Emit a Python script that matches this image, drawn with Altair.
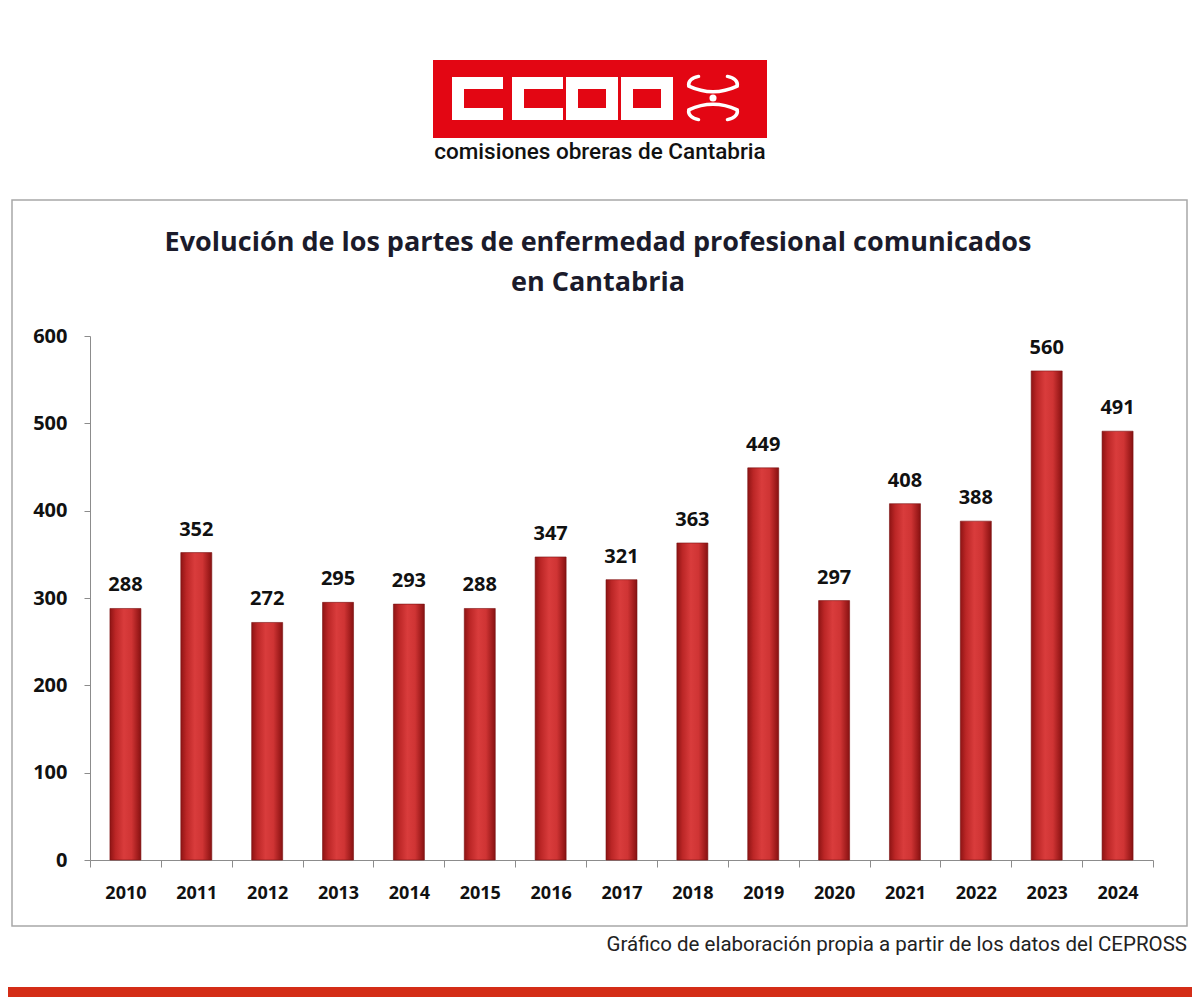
import altair as alt
import pandas as pd

# ---------------- data ----------------
years = ["2010", "2011", "2012", "2013", "2014", "2015", "2016", "2017",
         "2018", "2019", "2020", "2021", "2022", "2023", "2024"]
values = [288, 352, 272, 295, 293, 288, 347, 321, 363, 449, 297, 408, 388, 560, 491]
y_ticks = [0, 100, 200, 300, 400, 500, 600]
title_lines = ["Evolución de los partes de enfermedad profesional comunicados",
               "en Cantabria"]
logo_caption = "comisiones obreras de Cantabria"
footer_text = "Gráfico de elaboración propia a partir de los datos del CEPROSS"

df = pd.DataFrame({"year": years, "value": values})
one = pd.DataFrame({"k": [0]})

# ---------------- layout ----------------
W, H = 1063, 524          # plot area
OX, OY = 90, 336          # page position of plot origin
PAD = {"left": OX - 8, "top": OY - 8, "right": 1184 - (OX - 8) - W,
       "bottom": 989 - (OY - 8) - H}


def px(x):
    return x - OX


def py(y):
    return y - OY


RED = "#e30613"
NUM_FONT = "Open Sans"

# ---------------- decorations ----------------
box = alt.Chart(one).mark_rect(fill="white", fillOpacity=0, stroke="#a8a8a8",
                               strokeWidth=1.5).encode(
    x=alt.value(px(12)), x2=alt.value(px(1187)),
    y=alt.value(py(200)), y2=alt.value(py(926)))

logo_bg = alt.Chart(one).mark_rect(color=RED).encode(
    x=alt.value(px(433)), x2=alt.value(px(767)),
    y=alt.value(py(60)), y2=alt.value(py(138)))


def rect(x1, x2, y1, y2, color):
    return alt.Chart(one).mark_rect(color=color).encode(
        x=alt.value(px(x1)), x2=alt.value(px(x2)),
        y=alt.value(py(y1)), y2=alt.value(py(y2)))


letters = [
    # C
    rect(452, 503, 77, 120, "white"), rect(464, 504, 89, 108, RED),
    # C
    rect(512, 563, 77, 120, "white"), rect(524, 564, 89, 108, RED),
    # O
    rect(566, 618, 77, 120, "white"), rect(578, 606, 89, 108, RED),
    # O
    rect(621, 673, 77, 120, "white"), rect(633, 661, 89, 108, RED),
]

sym_path = ("M -0.55 -0.82 Q -0.97 -0.72 -0.92 -0.45 Q 0 -0.02 0.92 -0.45 "
            "Q 0.97 -0.72 0.55 -0.82 "
            "M -0.55 0.82 Q -0.97 0.72 -0.92 0.45 Q 0 0.02 0.92 0.45 "
            "Q 0.97 0.72 0.55 0.82")
symbol = alt.Chart(one).mark_point(shape=sym_path, size=2770, filled=False,
                                   stroke="white", strokeWidth=3.5,
                                   strokeCap="round", opacity=1).encode(
    x=alt.value(px(713)), y=alt.value(py(98)))
sym_dot = alt.Chart(one).mark_point(shape="circle", size=50, filled=True,
                                    color="white", opacity=1).encode(
    x=alt.value(px(713)), y=alt.value(py(98)))

caption = alt.Chart(one).mark_text(text=logo_caption, font="Roboto",
                                   fontSize=22.5, fontWeight=500,
                                   color="#111111",
                                   align="center", baseline="middle").encode(
    x=alt.value(px(600)), y=alt.value(py(152)))

title1 = alt.Chart(one).mark_text(text=title_lines[0], font=NUM_FONT,
                                  fontSize=27, fontWeight="bold",
                                  color="#1b1b2b", align="center",
                                  baseline="middle").encode(
    x=alt.value(px(598)), y=alt.value(py(243)))
title2 = alt.Chart(one).mark_text(text=title_lines[1], font=NUM_FONT,
                                  fontSize=27, fontWeight="bold",
                                  color="#1b1b2b", align="center",
                                  baseline="middle").encode(
    x=alt.value(px(598)), y=alt.value(py(283)))

footer = alt.Chart(one).mark_text(text=footer_text, font="Roboto",
                                  fontSize=20.5, color="#222222",
                                  align="right", baseline="middle").encode(
    x=alt.value(px(1187)), y=alt.value(py(945)))

band = alt.Chart(one).mark_rect(color="#d42d17").encode(
    x=alt.value(px(0)), x2=alt.value(px(1200)),
    y=alt.value(py(987)), y2=alt.value(py(1010)))

# ---------------- chart ----------------
grad = alt.Gradient(
    gradient="linear", x1=0, x2=1, y1=0, y2=0,
    stops=[alt.GradientStop(color="#8e1414", offset=0),
           alt.GradientStop(color="#bb2626", offset=0.18),
           alt.GradientStop(color="#d93c3c", offset=0.45),
           alt.GradientStop(color="#cf3434", offset=0.7),
           alt.GradientStop(color="#a01c1c", offset=0.9),
           alt.GradientStop(color="#861212", offset=1)])

base = alt.Chart(df).encode(
    x=alt.X("year:N", sort=years,
            scale=alt.Scale(paddingInner=0, paddingOuter=0),
            axis=alt.Axis(title=None, labelAngle=0, tickBand="extent",
                          domainColor="#8c8c8c", tickColor="#8c8c8c",
                          tickSize=7, labelFont=NUM_FONT,
                          labelFontWeight="bold", labelFontSize=18,
                          labelColor="#111111", labelPadding=17)),
    y=alt.Y("value:Q", scale=alt.Scale(domain=[0, 600], nice=False),
            axis=alt.Axis(title=None, values=y_ticks, grid=False,
                          domainColor="#8c8c8c", tickColor="#8c8c8c",
                          tickSize=6, labelFont=NUM_FONT,
                          labelFontWeight="bold", labelFontSize=20,
                          labelColor="#111111", labelPadding=17)),
)

bars = base.mark_bar(size=31, color=grad, stroke="#7a1010", strokeWidth=0.6)
labels = base.mark_text(dy=-17, baseline="alphabetic", font=NUM_FONT,
                        fontWeight="bold", fontSize=20,
                        color="#111111").encode(text="value:Q")

chart = alt.layer(
    box, logo_bg, *letters, symbol, sym_dot, caption, title1, title2,
    bars, labels, footer, band
).properties(
    width=W, height=H,
    autosize=alt.AutoSizeParams(type="none"),
    padding=PAD,
    background="white",
).configure_view(strokeWidth=0)

chart.save("out.html", embed_options={"renderer": "svg", "actions": False})
